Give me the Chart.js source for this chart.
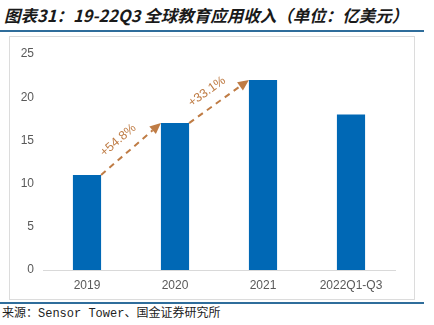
<!DOCTYPE html>
<html>
<head>
<meta charset="utf-8">
<script src="https://cdn.jsdelivr.net/npm/chart.js@4.4.0/dist/chart.umd.min.js"></script>
<style>
  html, body { margin: 0; padding: 0; background: #fff; }
  #wrap { position: relative; width: 434px; height: 325px; overflow: hidden; }
  #title {
    position: absolute; left: 4px; top: 4px; white-space: nowrap;
    font-family: "Noto Sans CJK SC", sans-serif; font-weight: bold; font-style: italic;
    font-size: 16.5px; line-height: 22px; color: #1a1a1a;
  }
  .rule { position: absolute; left: 0; width: 424px; height: 2px; background: #2F6D9B; }
  #frame {
    position: absolute; left: 9px; top: 36px; width: 404px; height: 262px;
    border: 1px solid #DCDCDC;
  }
  #source {
    position: absolute; left: 2px; top: 306px; white-space: nowrap;
    font-family: "Liberation Mono", "Noto Sans CJK SC", monospace;
    font-size: 12px; line-height: 16px; color: #222;
  }
  canvas { position: absolute; left: 0; top: 0; }
</style>
</head>
<body>
<div id="wrap">
  <div id="title">图表31：19-22Q3 全球教育应用收入（单位：亿美元）</div>
  <div class="rule" style="top:30px"></div>
  <div id="frame"></div>
  <div class="rule" style="top:302px"></div>
  <div id="source">来源：Sensor Tower、国金证券研究所</div>
  <canvas id="chart" width="434" height="325"></canvas>
</div>
<script>
// Global education app revenue, 100M USD
const categories = ['2019', '2020', '2021', '2022Q1-Q3'];
const revenue = [11, 17, 22, 18];
const growthLabels = ['+54.8%', '+33.1%'];
const yTicks = [0, 5, 10, 15, 20, 25];

const barColor = '#0068B5';
const arrowColor = '#BF7C45';
const tickFont = { family: '"Liberation Sans", Arial, sans-serif', size: 12 };

// Dashed growth arrows from one bar top to the next, with rotated labels
const growthArrows = {
  id: 'growthArrows',
  afterDatasetsDraw(chart) {
    const ctx = chart.ctx;
    const bars = chart.getDatasetMeta(0).data;
    growthLabels.forEach((label, i) => {
      const a = bars[i], b = bars[i + 1];
      const x0 = a.x + a.width / 2, y0 = a.y;
      const x1 = b.x - b.width / 2, y1 = b.y;
      const ang = Math.atan2(y1 - y0, x1 - x0);
      const len = Math.hypot(x1 - x0, y1 - y0);
      const head = 11, hw = 5;
      ctx.save();
      ctx.translate(x0, y0);
      ctx.rotate(ang);
      ctx.strokeStyle = arrowColor;
      ctx.fillStyle = arrowColor;
      ctx.lineWidth = 2;
      ctx.setLineDash([6, 5]);
      ctx.beginPath();
      ctx.moveTo(0, 0);
      ctx.lineTo(len - head, 0);
      ctx.stroke();
      ctx.setLineDash([]);
      ctx.beginPath();
      ctx.moveTo(len, 0);
      ctx.lineTo(len - head, -hw);
      ctx.lineTo(len - head, hw);
      ctx.closePath();
      ctx.fill();
      ctx.font = '12.5px "Liberation Sans", Arial, sans-serif';
      ctx.textAlign = 'center';
      ctx.textBaseline = 'middle';
      ctx.fillText(label, len / 2 - 4, -15);
      ctx.restore();
    });
  }
};

new Chart(document.getElementById('chart'), {
  type: 'bar',
  data: {
    labels: categories,
    datasets: [{
      data: revenue,
      backgroundColor: barColor,
      barPercentage: 0.32,
      categoryPercentage: 1.0
    }]
  },
  options: {
    responsive: false,
    animation: false,
    layout: { padding: { left: 0, right: 39, top: 54, bottom: 25 } },
    plugins: { legend: { display: false }, tooltip: { enabled: false } },
    scales: {
      x: {
        grid: { display: false, drawTicks: false },
        border: { display: true, color: '#D9D9D9', width: 1 },
        ticks: { color: '#595959', padding: 8, font: tickFont },
        afterFit(scale) { scale.height = 30; }
      },
      y: {
        min: 0, max: 25,
        grid: { display: false, drawTicks: false },
        border: { display: false },
        afterBuildTicks(scale) { scale.ticks = yTicks.map(v => ({ value: v })); },
        ticks: { color: '#595959', padding: 9, font: tickFont },
        afterFit(scale) { scale.width = 43; }
      }
    }
  },
  plugins: [growthArrows]
});
</script>
</body>
</html>
